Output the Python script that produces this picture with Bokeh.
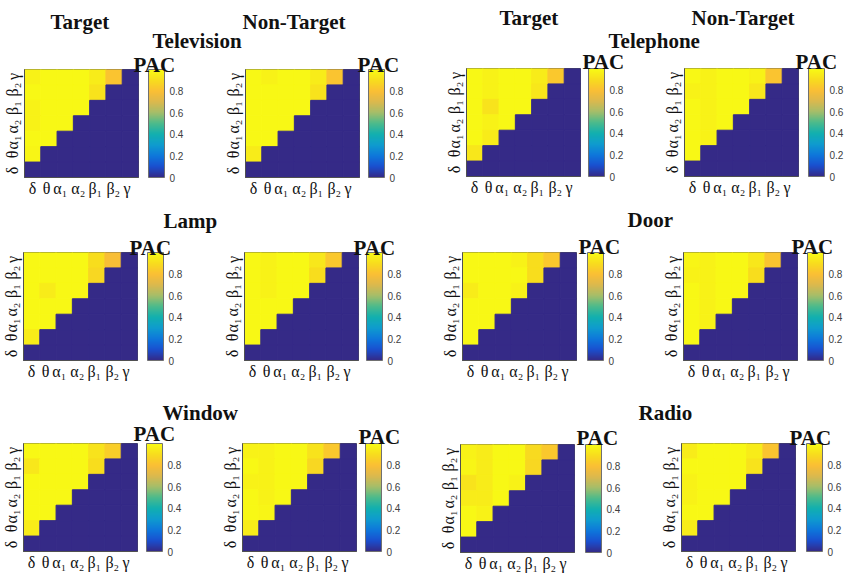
import numpy as np
from bokeh.embed import file_html
from bokeh.layouts import column
from bokeh.models import ColorBar, ColumnDataSource, FixedTicker, Label, LinearColorMapper, Range1d
from bokeh.plotting import figure
from bokeh.resources import INLINE

bands = ["δ", "θ", "α₁", "α₂", "β₁", "β₂", "γ"]
bar_ticks = [0, 0.2, 0.4, 0.6, 0.8]

# rows run from gamma (top) down to theta, the delta row and the gamma column are all 0
television_target = [[.97, .99, .99, .99, .95, .82], [.99, .99, .99, .99, .92], [.97, .99, .99, .99], [.97, .99, .99], [.99, .99], [.98]]
television_nontarget = [[.99, .97, .99, .99, .95, .82], [.99, .99, .99, .99, .92], [.99, .99, .99, .99], [.99, .99, .99], [.99, .99], [.95]]
telephone_target = [[.99, .97, .99, .99, .95, .83], [.99, .97, .99, .99, .93], [.99, .92, .99, .99], [.99, .97, .99], [.99, .95], [.93]]
telephone_nontarget = [[.99, .97, .99, .99, .97, .82], [.97, .97, .99, .99, .93], [.99, .97, .99, .99], [.99, .97, .99], [.99, .97], [.99]]
lamp_target = [[.99, .99, .99, .99, .90, .79], [.99, .99, .99, .99, .88], [.99, .95, .99, .99], [.99, .99, .99], [.99, .99], [.95]]
lamp_nontarget = [[.99, .97, .99, .99, .93, .83], [.99, .97, .99, .99, .90], [.99, .97, .99, .99], [.99, .99, .99], [.99, .99], [.99]]
door_target = [[.99, .99, .99, .97, .90, .83], [.99, .99, .99, .99, .90], [.95, .99, .99, .97], [.99, .99, .99], [.99, .99], [.99]]
door_nontarget = [[.98, .97, .99, .99, .93, .82], [.97, .97, .99, .99, .90], [.99, .97, .99, .99], [.99, .97, .99], [.99, .97], [.99]]
window_target = [[.99, .99, .99, .99, .92, .85], [.93, .99, .99, .99, .90], [.99, .99, .99, .99], [.99, .99, .99], [.99, .99], [.95]]
window_nontarget = [[.97, .97, .99, .99, .92, .83], [.99, .97, .99, .99, .88], [.97, .97, .99, .99], [.99, .97, .99], [.99, .98], [.95]]
radio_target = [[.97, .95, .99, .99, .89, .83], [.98, .95, .99, .99, .88], [.92, .95, .99, .97], [.95, .95, .99], [.99, .97], [.99]]
radio_nontarget = [[.95, .99, .99, .99, .95, .82], [.99, .99, .99, .99, .92], [.97, .99, .99, .99], [.97, .99, .99], [.99, .99], [.95]]

# the band labels were typed by hand in the original so they sit a bit off the cell centres
x_label_pos = [0.5, 1.35, 2.2, 3.3, 4.35, 5.45, 6.3]
y_label_pos = [0.45, 1.49, 2.27, 3.3, 4.5, 5.7, 6.55]

parula_stops = [0, .1, .2, .3, .4, .5, .6, .7, .8, .9, 1]
parula_r = [0x35, 0x1a, 0x0e, 0x0f, 0x12, 0x4c, 0xa5, 0xdc, 0xfb, 0xf8, 0xf9]
parula_g = [0x2a, 0x50, 0x78, 0x9c, 0xb0, 0xbb, 0xbe, 0xb9, 0xbf, 0xdd, 0xfb]
parula_b = [0x87, 0xd0, 0xdc, 0xcf, 0xb0, 0x8c, 0x6a, 0x4e, 0x35, 0x1e, 0x15]
t = np.linspace(0, 1, 256)
parula = ["#%02x%02x%02x" % (int(np.interp(v, parula_stops, parula_r)), int(np.interp(v, parula_stops, parula_g)), int(np.interp(v, parula_stops, parula_b))) for v in t]
mapper = LinearColorMapper(palette=parula, low=0, high=1)

SERIF = "Liberation Serif"
LEFT = 30


def panel(rows, frame_left, frame_top, bar_left):
    xs, ys, vals = [], [], []
    for i, row in enumerate(rows):
        for c in range(7):
            xs.append(c + 0.5)
            ys.append(6.5 - i)
            vals.append(row[c] if c < len(row) else 0)
    for c in range(7):
        xs.append(c + 0.5)
        ys.append(0.5)
        vals.append(0)
    source = ColumnDataSource(dict(x=xs, y=ys, v=vals))

    p = figure(width=200, height=134, frame_width=114, frame_height=108,
               x_range=Range1d(0, 7), y_range=Range1d(0, 7),
               output_backend="svg", toolbar_location=None,
               min_border_left=LEFT, min_border_top=2, min_border_bottom=24, min_border_right=0)
    p.rect("x", "y", 1, 1, source=source,
           fill_color={"field": "v", "transform": mapper},
           line_color={"field": "v", "transform": mapper}, line_width=1)
    p.grid.visible = False
    p.background_fill_alpha = 0
    p.border_fill_alpha = 0
    p.outline_line_color = "#505050"
    for ax, pos in ((p.xaxis[0], x_label_pos), (p.yaxis[0], y_label_pos)):
        ax.ticker = FixedTicker(ticks=pos)
        ax.major_label_overrides = dict(zip(pos, bands))
        ax.major_label_text_font = SERIF
        ax.major_label_text_font_size = "16px"
        ax.major_label_text_color = "#111111"
        ax.major_tick_line_color = None
        ax.minor_tick_line_color = None
        ax.major_tick_out = 0
        ax.major_tick_in = 0
        ax.axis_line_color = "#505050"
        ax.major_label_standoff = 2
    p.yaxis[0].major_label_orientation = "vertical"
    p.yaxis[0].major_label_standoff = 3

    bar = ColorBar(color_mapper=mapper, ticker=FixedTicker(ticks=bar_ticks),
                   width=16, height=108, padding=0,
                   major_label_text_font="Liberation Sans", major_label_text_font_size="10px",
                   major_label_text_color="#404040", major_tick_line_color=None,
                   bar_line_color="#707070", label_standoff=5,
                   location=(bar_left - frame_left - 114, 0))
    p.add_layout(bar, "right")
    p.styles = {"position": "absolute", "left": f"{frame_left - LEFT}px", "top": f"{frame_top - 2}px"}
    return p


children = [
    panel(television_target, 24, 69, 148),
    panel(television_nontarget, 245, 69, 368),
    panel(telephone_target, 466, 68, 588),
    panel(telephone_nontarget, 684, 68, 808),
    panel(lamp_target, 23, 252, 147),
    panel(lamp_nontarget, 244, 252, 366),
    panel(door_target, 462, 252, 587),
    panel(door_nontarget, 683, 252, 807),
    panel(window_target, 23, 443, 146),
    panel(window_nontarget, 242, 443, 365),
    panel(radio_target, 460, 444, 585),
    panel(radio_nontarget, 681, 443, 806),
]

# titles on one see-through sheet over the panels, y counted from the top of the page
sheet = figure(width=851, height=575, x_range=Range1d(0, 851), y_range=Range1d(575, 0),
               output_backend="svg", toolbar_location=None, min_border=0,
               x_axis_location=None, y_axis_location=None)
sheet.grid.visible = False
sheet.outline_line_color = None
sheet.background_fill_alpha = 0
sheet.border_fill_alpha = 0

titles = [("Target", 50, 21), ("Non-Target", 242, 21), ("Television", 152, 40),
          ("Target", 499, 17), ("Non-Target", 691, 17), ("Telephone", 608, 40),
          ("Lamp", 163, 220), ("Door", 627, 219), ("Window", 162, 412), ("Radio", 638, 412),
          ("PAC", 133, 64), ("PAC", 357, 64), ("PAC", 582, 61), ("PAC", 795, 61),
          ("PAC", 129, 247), ("PAC", 353, 247), ("PAC", 578, 246), ("PAC", 791, 246),
          ("PAC", 133, 433), ("PAC", 358, 436), ("PAC", 576, 437), ("PAC", 789, 437)]
for text, x, y in titles:
    sheet.add_layout(Label(x=x, y=y, text=text, text_font=SERIF, text_font_size="21px",
                           text_font_style="bold", text_color="#111111",
                           text_baseline="alphabetic", text_align="left"))

# own column so the page column does not line its frame up with the panels
holder = column(sheet, width=851, height=575)
holder.styles = {"position": "absolute", "left": "0px", "top": "0px", "pointer-events": "none"}
children.append(holder)

page = column(*children, width=851, height=575)
page.styles = {"position": "absolute", "left": "0px", "top": "0px"}

open("out.html", "w").write(file_html(page, INLINE))
